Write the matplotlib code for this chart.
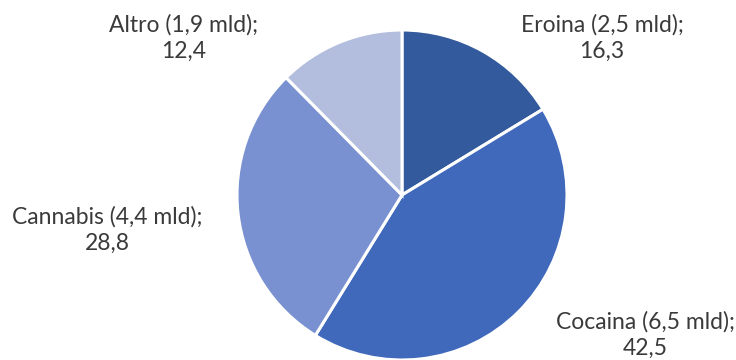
import matplotlib.pyplot as plt

# market shares (%) and value in billions
labels = ['Eroina', 'Cocaina', 'Cannabis', 'Altro']
values = [16.3, 42.5, 28.8, 12.4]
mld = ['2,5', '6,5', '4,4', '1,9']
colors = ['#335A9C', '#4069BC', '#7991D0', '#B3BEDF']

# label anchor points (pixel-like coords, y up)
label_pos = [(602, 322), (645, 25), (107, 130), (184, 322)]

plt.rcParams['font.family'] = ['Lato', 'DejaVu Sans']

fig = plt.figure(figsize=(7.36, 3.6), dpi=100)
ax = fig.add_axes([0, 0, 1, 1])

ax.pie(values, colors=colors, startangle=90, counterclock=False,
       center=(402, 165), radius=165,
       wedgeprops=dict(edgecolor='white', linewidth=2.2))

for name, v, m, (x, y) in zip(labels, values, mld, label_pos):
    txt = f'{name} ({m} mld);\n' + f'{v:.1f}'.replace('.', ',')
    ax.text(x, y, txt, ha='center', va='center', fontsize=16.5,
            color='#3A3A3A', linespacing=1.3)

ax.set_xlim(0, 736)
ax.set_ylim(0, 360)
ax.set_aspect('equal')
ax.axis('off')

fig.savefig('out.png', dpi=100)
